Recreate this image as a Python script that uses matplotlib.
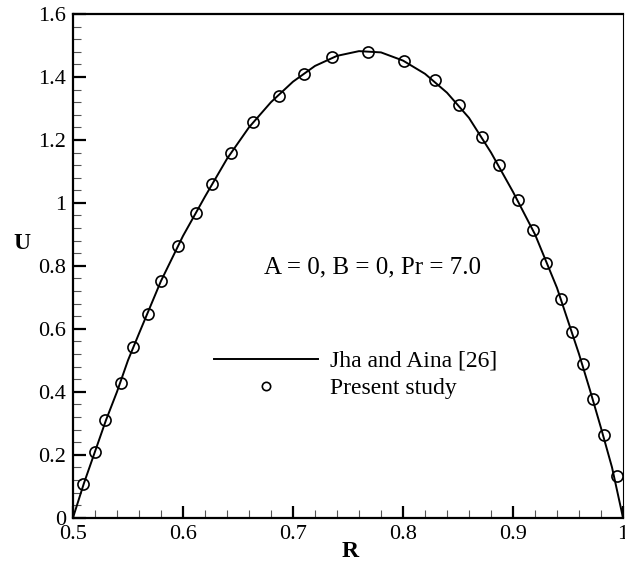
import matplotlib
matplotlib.use("Agg")
import matplotlib.pyplot as plt
from matplotlib.ticker import MultipleLocator

# Jha and Aina [26] analytical curve
r_line = [0.50, 0.51, 0.52, 0.53, 0.54, 0.55, 0.56, 0.58, 0.60, 0.62, 0.64,
          0.66, 0.68, 0.70, 0.72, 0.74, 0.76, 0.78, 0.80, 0.82, 0.84, 0.86,
          0.88, 0.90, 0.92, 0.94, 0.96, 0.97, 0.98, 0.99, 1.00]
u_line = [0.0, 0.11, 0.21, 0.31, 0.40, 0.50, 0.585, 0.752, 0.895, 1.02, 1.14,
          1.24, 1.32, 1.385, 1.435, 1.467, 1.482, 1.478, 1.452, 1.41, 1.35, 1.27,
          1.16, 1.035, 0.90, 0.73, 0.52, 0.405, 0.285, 0.16, 0.0]

# Present study (circles)
r_pts = [0.5094, 0.5197, 0.5294, 0.5436, 0.5548, 0.5685, 0.580, 0.5957,
         0.6118, 0.6266, 0.6436, 0.6639, 0.687, 0.7097, 0.7355, 0.7679,
         0.8006, 0.8288, 0.8512, 0.8715, 0.8873, 0.9043, 0.9185, 0.9297,
         0.9434, 0.9534, 0.9634, 0.9725, 0.9827, 0.9943]
u_pts = [0.106, 0.209, 0.309, 0.428, 0.543, 0.648, 0.752, 0.863,
         0.967, 1.060, 1.159, 1.258, 1.341, 1.410, 1.463, 1.480,
         1.451, 1.390, 1.310, 1.210, 1.120, 1.009, 0.914, 0.808,
         0.694, 0.591, 0.487, 0.378, 0.262, 0.132]

plt.rcParams['font.family'] = ['Liberation Serif', 'DejaVu Serif']

fig = plt.figure(figsize=(6.25, 5.64), dpi=100)
ax = fig.add_axes([0.1168, 0.0821, 0.8800, 0.8931])

ax.plot(r_line, u_line, color='black', linewidth=1.4, label='Jha and Aina [26]')
ax.plot(r_pts, u_pts, linestyle='none', marker='o', markersize=8,
        markerfacecolor='none', markeredgecolor='black', markeredgewidth=1.2,
        label='Present study')

ax.set_xlim(0.5, 1.0)
ax.set_ylim(0, 1.6)
ax.xaxis.set_minor_locator(MultipleLocator(0.02))
ax.yaxis.set_minor_locator(MultipleLocator(0.04))
ax.set_xticks([0.5, 0.6, 0.7, 0.8, 0.9, 1.0])
ax.set_xticklabels(['0.5', '0.6', '0.7', '0.8', '0.9', '1'])
ax.set_yticks([0, 0.2, 0.4, 0.6, 0.8, 1.0, 1.2, 1.4, 1.6])
ax.set_yticklabels(['0', '0.2', '0.4', '0.6', '0.8', '1', '1.2', '1.4', '1.6'])

ax.tick_params(which='major', direction='in', length=9, width=1.6,
               labelsize=16, pad=5, top=False, right=False)
ax.tick_params(which='minor', direction='in', length=5.5, width=0.8,
               color='#555555', top=False, right=False)

for side in ['left', 'bottom', 'top']:
    ax.spines[side].set_linewidth(1.6)
ax.spines['right'].set_linewidth(0.8)

ax.set_xlabel('R', fontsize=17, fontweight='bold', va='center')
ax.set_ylabel('U', fontsize=17, fontweight='bold', rotation=0, va='center')
ax.xaxis.set_label_coords(0.504, -0.068)
ax.yaxis.set_label_coords(-0.092, 0.545)

ax.text(0.7723, 0.796, 'A = 0, B = 0, Pr = 7.0', fontsize=18,
        ha='center', va='center')

leg = ax.legend(loc='upper left', bbox_to_anchor=(0.24, 0.351), frameon=False,
                fontsize=17, handlelength=4.4, handletextpad=0.5,
                labelspacing=0.25, borderaxespad=0, markerscale=0.75)

fig.savefig('out.png', dpi=100)
